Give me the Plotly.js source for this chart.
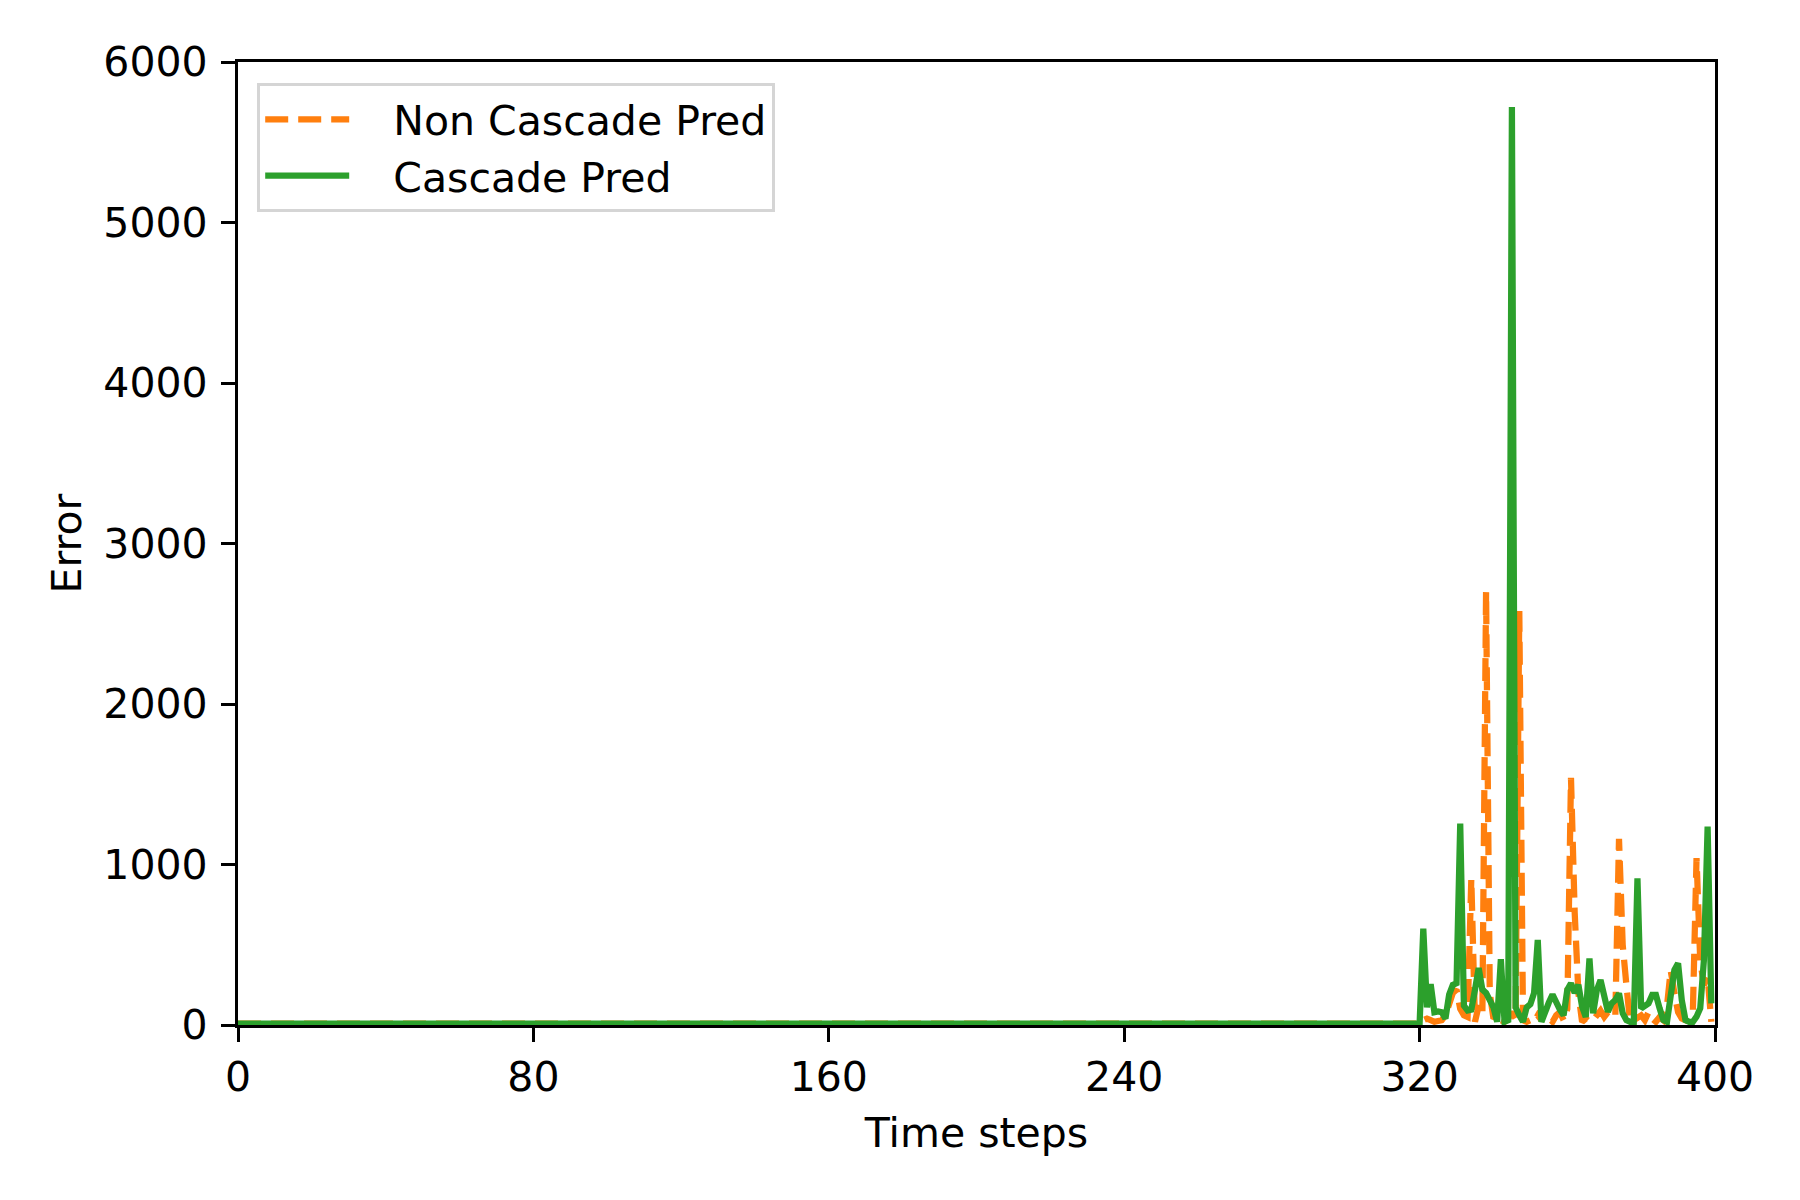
<!DOCTYPE html>
<html>
<head>
<meta charset="utf-8">
<script src="https://cdn.plot.ly/plotly-3.0.1.min.js"></script>
<style>
  body { margin: 0; background: #ffffff; }
  #myDiv { width: 1800px; height: 1200px; }
</style>
</head>
<body>
<div id="myDiv"></div>
<script>
// time steps: flat part from 0 to 319, then every step 320..399
var timeSteps = [0, 319,
	320, 321, 322, 323, 324, 325, 326, 327, 328, 329,
	330, 331, 332, 333, 334, 335, 336, 337, 338, 339,
	340, 341, 342, 343, 344, 345, 346, 347, 348, 349,
	350, 351, 352, 353, 354, 355, 356, 357, 358, 359,
	360, 361, 362, 363, 364, 365, 366, 367, 368, 369,
	370, 371, 372, 373, 374, 375, 376, 377, 378, 379,
	380, 381, 382, 383, 384, 385, 386, 387, 388, 389,
	390, 391, 392, 393, 394, 395, 396, 397, 398, 399];

var nonCascadeErr = [8, 8,
	8, 30, 40, 30, 20, 25, 30, 60, 120, 200,
	220, 100, 60, 50, 910, 20, 120, 60, 2700, 200,
	40, 60, 30, 20, 40, 80, 40, 2580, 30, 20,
	30, 20, 60, 30, 100, 40, 20, 60, 80, 30,
	100, 1540, 700, 200, 20, 40, 20, 30, 60, 90,
	50, 80, 60, 50, 1160, 500, 250, 20, 30, 40,
	60, 30, 80, 40, 20, 50, 30, 120, 340, 200,
	80, 40, 30, 60, 80, 1040, 400, 250, 300, 20];

var cascadeErr = [8, 8,
	8, 600, 110, 255, 80, 85, 80, 40, 190, 250,
	260, 1255, 120, 90, 95, 220, 355, 220, 200, 155,
	110, 20, 410, 20, 30, 5720, 110, 60, 20, 110,
	130, 200, 530, 20, 90, 140, 190, 130, 95, 60,
	220, 260, 200, 250, 115, 50, 415, 73, 218, 280,
	155, 83, 135, 155, 197, 73, 31, 20, 20, 914,
	104, 125, 135, 187, 187, 104, 31, 20, 155, 343,
	384, 155, 31, 20, 20, 52, 104, 405, 1236, 135];

var xTicks = [0, 80, 160, 240, 320, 400];
var yTicks = [0, 1000, 2000, 3000, 4000, 5000, 6000];

var FONT = "DejaVu Sans, sans-serif";
var PAD = "\u00a0\u00a0\u00a0";   // gap between legend line and its text

function make_trace(y, name, color, dash, group){
	return {
		x: timeSteps,
		y: y,
		name: PAD + name,
		legendgroup: group,
		type: "scatter",
		mode: "lines",
		line: {color: color, width: 6.25, dash: dash}
	};
}

var data = [
	make_trace(nonCascadeErr, "Non Cascade Pred", "#ff7f0e", "23px,10px", "g1"),
	make_trace(cascadeErr, "Cascade Pred", "#2ca02c", "solid", "g2")
];

var axisCommon = {
	showgrid: false,
	zeroline: false,
	showline: true,
	mirror: true,
	linecolor: "#000000",
	linewidth: 3.3,
	ticks: "outside",
	ticklen: 14,
	tickwidth: 3.3,
	tickcolor: "#000000",
	tickfont: {family: FONT, size: 41, color: "#000000"},
	automargin: false
};

var layout = {
	width: 1800,
	height: 1200,
	paper_bgcolor: "#ffffff",
	plot_bgcolor: "#ffffff",
	margin: {l: 238, r: 85, t: 62, b: 175},
	font: {family: FONT, color: "#000000"},
	showlegend: true,
	legend: {
		x: 0.013, y: 0.978, xanchor: "left", yanchor: "top",
		bgcolor: "rgba(255,255,255,0.8)",
		bordercolor: "#d5d5d5",
		borderwidth: 3,
		font: {family: FONT, size: 41, color: "#000000"},
		itemwidth: 84,
		traceorder: "normal",
		tracegroupgap: 5
	},
	xaxis: Object.assign({}, axisCommon, {
		range: [0, 400],
		tickmode: "array",
		tickvals: xTicks,
		ticktext: xTicks.map(String),
		title: {text: "Time steps", font: {family: FONT, size: 41, color: "#000000"}, standoff: 18}
	}),
	yaxis: Object.assign({}, axisCommon, {
		range: [0, 6000],
		tickmode: "array",
		tickvals: yTicks,
		ticktext: yTicks.map(String),
		ticklabelstandoff: 5,
		title: {text: "Error", font: {family: FONT, size: 41, color: "#000000"}, standoff: 9}
	})
};

var config = {responsive: false, displayModeBar: false};
Plotly.newPlot('myDiv', data, layout, config);
</script>
</body>
</html>
